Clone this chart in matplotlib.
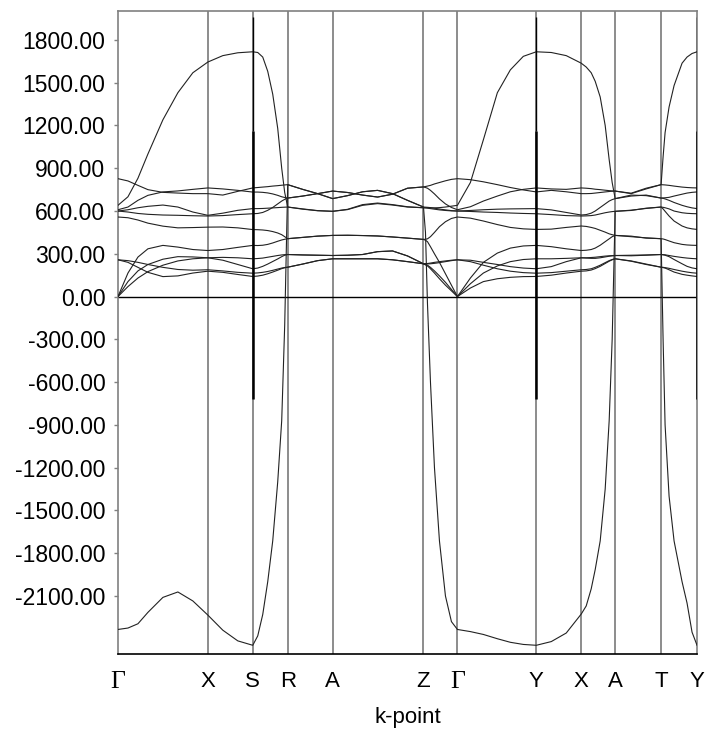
import numpy as np
import matplotlib.pyplot as plt

# k-path (distance along path) and high-symmetry points
kpath = [0, 10, 20, 30, 45, 60, 75, 90, 105, 120, 135,
         140, 145, 150, 155, 160, 164, 167, 170, 185, 200, 215,
         230, 245, 260, 275, 290, 306, 308, 310, 313, 317, 322, 328, 334, 340,
         353, 366, 380, 393, 406, 419, 434, 449, 464,
         469, 474, 478, 483, 488, 492, 495, 498, 514, 529, 544,
         546, 548, 552, 557, 565, 570, 575, 580]
sym_pos = [0, 90, 135, 170, 215, 306, 340, 419, 464, 498, 544, 580]
sym_labels = ["Γ", "X", "S", "R", "A", "Z", "Γ", "Y", "X", "A", "T", "Y"]

# phonon branches (frequency values read at each k-point)
band_01 = [-2335, -2325, -2295, -2215, -2110, -2072, -2135, -2234, -2340, -2415, -2446,
           -2380, -2230, -2000, -1714, -1300, -870, -200, 785, 752, 722, 687,
           708, 735, 745, 722, 675, 628, 450, -50, -600, -1200, -1714, -2100, -2280, -2335,
           -2350, -2370, -2400, -2425, -2440, -2446, -2420, -2360, -2227,
           -2170, -2050, -1915, -1714, -1350, -870, -300, 598, 604, 620, 628,
           626, 623, 615, 600, 588, 584, 582, 581]
band_02 = [640, 700, 830, 1000, 1240, 1430, 1570, 1645, 1690, 1710, 1717,
           1712, 1680, 1580, 1420, 1180, 900, 730, 628, 615, 603, 598,
           612, 645, 656, 645, 630, 623, 623, 623, 622, 622, 624, 628, 634, 640,
           800, 1100, 1430, 1590, 1685, 1717, 1712, 1690, 1637,
           1610, 1570, 1510, 1400, 1200, 960, 800, 687, 712, 708, 691,
           692, 693, 696, 705, 718, 726, 731, 734]
band_03 = [827, 811, 780, 750, 731, 726, 722, 722, 712, 738, 762,
           765, 768, 771, 775, 778, 781, 783, 785, 752, 722, 687,
           708, 735, 745, 722, 675, 628, 627, 626, 624, 620, 614, 608, 603, 600,
           597, 593, 590, 586, 583, 581, 575, 568, 565,
           566, 568, 572, 580, 588, 593, 596, 598, 606, 618, 628,
           615, 598, 565, 530, 495, 482, 475, 471]
band_04 = [609, 628, 675, 710, 734, 741, 752, 762, 755, 745, 733,
           733, 731, 727, 720, 710, 700, 695, 691, 705, 722, 740,
           730, 712, 698, 718, 760, 769, 772, 775, 780, 790, 800, 812, 822, 827,
           820, 805, 785, 765, 748, 734, 745, 735, 722,
           722, 723, 726, 730, 734, 737, 739, 740, 722, 755, 785,
           784, 783, 780, 775, 768, 765, 763, 762]
band_05 = [600, 609, 623, 633, 642, 628, 593, 570, 585, 605, 617,
           617, 618, 620, 622, 624, 626, 627, 628, 613, 602, 598,
           610, 640, 652, 642, 628, 623, 622, 620, 617, 613, 608, 604, 601, 600,
           604, 609, 613, 615, 616, 617, 608, 590, 572,
           575, 585, 600, 625, 650, 670, 680, 687, 705, 712, 691,
           689, 685, 675, 660, 640, 630, 622, 617]
band_06 = [600, 593, 583, 577, 572, 570, 567, 565, 568, 575, 581,
           583, 590, 605, 625, 650, 670, 682, 691, 705, 722, 740,
           730, 712, 698, 718, 760, 769, 765, 760, 745, 720, 685, 650, 625, 609,
           630, 670, 705, 735, 752, 762, 755, 752, 762,
           760, 757, 753, 750, 746, 743, 741, 740, 725, 760, 785,
           980, 1150, 1330, 1480, 1637, 1680, 1705, 1717]
band_07 = [558, 553, 537, 515, 494, 482, 484, 487, 488, 482, 470,
           469, 467, 463, 456, 446, 434, 420, 406, 415, 424, 429,
           430, 428, 425, 418, 410, 401, 402, 405, 420, 450, 490, 525, 548, 558,
           550, 530, 505, 485, 475, 471, 473, 485, 495,
           492, 485, 478, 465, 452, 440, 434, 429, 420, 412, 406,
           -300, -900, -1400, -1714, -2000, -2150, -2354, -2446]
band_08 = [0, 165, 277, 335, 359, 347, 330, 323, 330, 345, 359,
           358, 360, 366, 376, 388, 397, 402, 406, 415, 424, 429,
           430, 428, 425, 418, 410, 401, 395, 385, 350, 300, 240, 160, 80, 0,
           130, 240, 305, 340, 355, 359, 350, 335, 323,
           325, 330, 340, 360, 385, 405, 420, 429, 424, 410, 406,
           404, 400, 390, 378, 366, 362, 360, 359]
band_09 = [0, 105, 180, 225, 262, 280, 278, 272, 275, 272, 265,
           267, 270, 276, 282, 288, 292, 294, 295, 292, 290, 288,
           290, 295, 315, 320, 285, 230, 231, 232, 235, 240, 245, 250, 255, 258,
           255, 240, 225, 210, 200, 195, 210, 245, 272,
           270, 268, 268, 272, 278, 283, 286, 288, 290, 292, 295,
           293, 290, 280, 260, 230, 212, 201, 195]
band_10 = [0, 70, 130, 175, 220, 250, 265, 272, 255, 225, 195,
           200, 212, 228, 246, 264, 280, 290, 295, 292, 290, 288,
           290, 295, 315, 320, 285, 230, 229, 229, 230, 233, 238, 245, 252, 258,
           245, 220, 195, 178, 168, 164, 168, 178, 188,
           190, 195, 205, 220, 238, 252, 260, 265, 248, 225, 206,
           205, 203, 198, 190, 178, 172, 167, 164]
band_11 = [258, 252, 240, 225, 205, 190, 185, 188, 180, 170, 164,
           166, 170, 176, 184, 193, 200, 204, 206, 228, 252, 265,
           265, 265, 265, 258, 245, 230, 225, 220, 205, 180, 145, 100, 50, 0,
           90, 165, 215, 245, 260, 265, 265, 268, 272,
           272, 274, 276, 280, 284, 286, 287, 288, 286, 290, 295,
           294, 293, 288, 282, 274, 270, 267, 265]
band_12 = [258, 240, 205, 170, 140, 145, 165, 178, 170, 155, 141,
           144, 150, 160, 172, 185, 196, 202, 206, 228, 252, 265,
           265, 265, 265, 258, 245, 230, 222, 215, 195, 165, 125, 80, 40, 0,
           60, 105, 125, 135, 140, 141, 150, 165, 178,
           180, 186, 196, 212, 232, 248, 258, 265, 250, 228, 206,
           203, 200, 188, 172, 156, 150, 145, 141]
bands = [band_01, band_02, band_03, band_04, band_05, band_06,
         band_07, band_08, band_09, band_10, band_11, band_12]

# spikes at S and Y points
spike_pos = [135, 419, 580]
spike_low, spike_mid, spike_high = -720, 1160, 1960

yticks = [1800, 1500, 1200, 900, 600, 300, 0, -300, -600, -900, -1200, -1500, -1800, -2100]

plt.rcParams['font.family'] = ['Liberation Sans', 'DejaVu Sans']

fig = plt.figure(figsize=(7.06, 7.29), dpi=100)
ax = fig.add_axes([0.1671, 0.1029, 0.8202, 0.882])

for p in sym_pos[1:-1]:
    ax.axvline(p, color='#6e6e6e', lw=1.1, zorder=1)
ax.axhline(0, color='black', lw=1.0, zorder=2)

for b in bands:
    ax.plot(kpath, b, color='#222222', lw=0.8, zorder=3)

ax.vlines(spike_pos, spike_low, spike_mid, color='black', lw=1.8, zorder=4)
ax.vlines(spike_pos, spike_mid, spike_high, color='black', lw=1.0, zorder=4)

ax.set_xlim(0, 580)
ax.set_ylim(-2507, 2003)

ax.set_yticks(yticks)
ax.set_yticklabels([f"{v:.2f}" for v in yticks])
ax.tick_params(axis='y', direction='out', length=3, width=1, color='#808080',
               labelsize=16.5, pad=6)

ax.set_xticks(sym_pos)
ax.set_xticklabels(sym_labels)
ax.tick_params(axis='x', length=0, labelsize=16, pad=12)
for lab in ax.get_xticklabels():
    if lab.get_text() == "Γ":
        lab.set_family(['Liberation Serif', 'DejaVu Serif'])
        lab.set_fontsize(18.5)
ax.set_xlabel("k-point", fontsize=16, labelpad=10)

for side in ['left', 'top', 'right']:
    ax.spines[side].set_color('#808080')
    ax.spines[side].set_linewidth(1.2)
ax.spines['bottom'].set_color('black')
ax.spines['bottom'].set_linewidth(1.2)

plt.savefig("out.png", dpi=100)
